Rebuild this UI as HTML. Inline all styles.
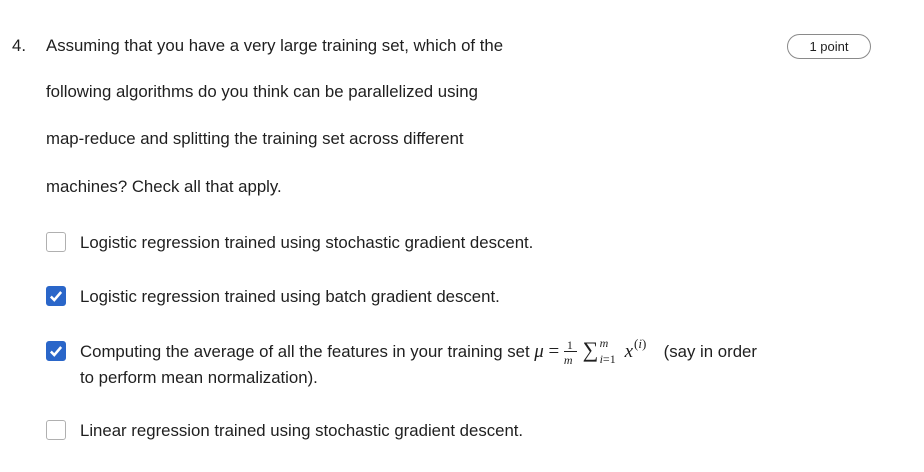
<!DOCTYPE html>
<html><head><style>
body{margin:0;width:924px;height:472px;background:#fff;font-family:"Liberation Sans",sans-serif;color:#1f1f1f;position:relative;overflow:hidden}
.t{position:absolute;font-size:16.8px;white-space:nowrap;line-height:20px;height:20px}
.cb{position:absolute;left:46px;width:20px;height:20px;border:1.5px solid #b0b0b0;border-radius:3px;box-sizing:border-box;background:#fff}
.cb.on{background:#2a66c9;border-color:#2a66c9}
.cb svg{position:absolute;left:1px;top:1px}
.pill{position:absolute;left:787px;top:34px;width:84px;height:25px;border:1px solid #8a8a8a;border-radius:13px;box-sizing:border-box;font-size:13px;text-align:center;line-height:23px}
.m{font-family:"Liberation Serif",serif;font-style:italic}
.mi{display:inline-block;vertical-align:top;position:relative;height:20px}
</style></head><body>
<div class="t" style="left:12px;top:36px">4.</div>
<div class="t" style="left:46px;top:36px">Assuming that you have a very large training set, which of the</div>
<div class="t" style="left:46px;top:82px">following algorithms do you think can be parallelized using</div>
<div class="t" style="left:46px;top:129px">map-reduce and splitting the training set across different</div>
<div class="t" style="left:46px;top:177px">machines? Check all that apply.</div>
<div class="pill">1 point</div>

<div class="cb" style="top:232px"></div>
<div class="t" style="left:80px;top:233px">Logistic regression trained using stochastic gradient descent.</div>

<div class="cb on" style="top:286px"><svg width="16" height="16" viewBox="0 0 14 14"><path d="M2.5 7.5 L5.5 10.5 L11.5 3.5" stroke="#fff" stroke-width="2.2" fill="none"/></svg></div>
<div class="t" style="left:80px;top:287px">Logistic regression trained using batch gradient descent.</div>

<div class="cb on" style="top:341px"><svg width="16" height="16" viewBox="0 0 14 14"><path d="M2.5 7.5 L5.5 10.5 L11.5 3.5" stroke="#fff" stroke-width="2.2" fill="none"/></svg></div>
<div class="t" style="left:80px;top:342px">Computing the average of all the features in your training set <span class="m" style="font-size:19px">μ</span> <span style="font-family:'Liberation Serif',serif;font-size:19px">=</span> <span class="mi" style="width:14px"><span style="position:absolute;left:3px;top:-7px;font-size:12px;font-family:'Liberation Serif',serif">1</span><span style="position:absolute;left:0;top:9px;width:13px;border-top:1px solid #1f1f1f"></span><span class="m" style="position:absolute;left:0;top:8px;font-size:12px">m</span></span> <span class="mi" style="width:42px"><span style="position:absolute;left:0;top:-2px;font-family:'Liberation Serif',serif;font-size:22px">∑</span><span class="m" style="position:absolute;left:17px;top:-9px;font-size:12px">m</span><span style="position:absolute;left:17px;top:7px;font-size:12px;font-family:'Liberation Serif',serif"><i>i</i>=1</span></span><span class="m" style="font-size:19px">x</span><span class="mi" style="width:26px"><span style="position:absolute;left:1px;top:-8px;font-size:13px;font-family:'Liberation Serif',serif">(<i>i</i>)</span></span> (say in order</div>
<div class="t" style="left:80px;top:368px">to perform mean normalization).</div>

<div class="cb" style="top:420px"></div>
<div class="t" style="left:80px;top:421px">Linear regression trained using stochastic gradient descent.</div>
</body></html>
